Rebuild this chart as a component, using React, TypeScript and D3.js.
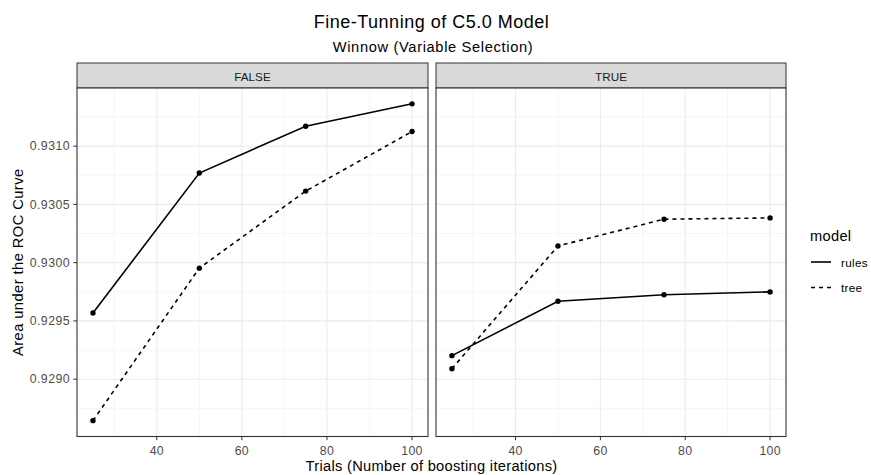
import React from "react";
import * as d3 from "d3";

const trials = [25, 50, 75, 100];
const panels = ["FALSE", "TRUE"];
const models = ["rules", "tree"];
const falseRules = [0.929568, 0.930769, 0.931171, 0.931363];
const falseTree = [0.928644, 0.929953, 0.930614, 0.931125];
const trueRules = [0.929202, 0.929669, 0.929724, 0.929749];
const trueTree = [0.92909, 0.930143, 0.930373, 0.930384];
const xTicks = [40, 60, 80, 100];
const xMinor = [30, 50, 70, 90];
const yTicks = [0.929, 0.9295, 0.93, 0.9305, 0.931];
const yMinor = [0.92875, 0.92925, 0.92975, 0.93025, 0.93075, 0.93125];

const W = 871;
const H = 475;
const FONT = "Liberation Sans, Arial, sans-serif";
const panelBoxes = [
  { x0: 77, x1: 428 },
  { x0: 436, x1: 786 },
];
const stripTop = 63;
const panelTop = 88;
const panelBottom = 436.5;

export default function App() {
  const series: Record<string, number[][]> = {
    FALSE: [falseRules, falseTree],
    TRUE: [trueRules, trueTree],
  };
  const all = [...falseRules, ...falseTree, ...trueRules, ...trueTree];
  const yMin = d3.min(all)!;
  const yMax = d3.max(all)!;
  const yPad = (yMax - yMin) * 0.05;
  const y = d3.scaleLinear().domain([yMin - yPad, yMax + yPad]).range([panelBottom, panelTop]);
  const xPad = (100 - 25) * 0.05;
  const dashes = ["none", "4,4"];
  const cx = (panelBoxes[0].x0 + panelBoxes[1].x1) / 2;

  return (
    <svg width={W} height={H} style={{ position: "absolute", left: 0, top: 0, background: "#fff" }} fontFamily={FONT}>
      <rect width={W} height={H} fill="#fff" />
      <text x={cx} y={27.5} textAnchor="middle" fontSize={18} letterSpacing={0.5} fill="#000">Fine-Tunning of C5.0 Model</text>
      <text x={cx + 1.5} y={52} textAnchor="middle" fontSize={14.67} letterSpacing={0.65} fill="#000">Winnow (Variable Selection)</text>
      {panels.map((p, pi) => {
        const b = panelBoxes[pi];
        const x = d3.scaleLinear().domain([25 - xPad, 100 + xPad]).range([b.x0, b.x1]);
        const line = d3.line<number>().x((_, i) => x(trials[i])).y((v) => y(v));
        return (
          <g key={p}>
            <rect x={b.x0} y={stripTop} width={b.x1 - b.x0} height={panelTop - stripTop} fill="#D9D9D9" stroke="#333" strokeWidth={1} />
            <text x={(b.x0 + b.x1) / 2} y={80.5} textAnchor="middle" fontSize={11.73} fill="#1A1A1A">{p}</text>
            <rect x={b.x0} y={panelTop} width={b.x1 - b.x0} height={panelBottom - panelTop} fill="#fff" />
            {yMinor.map((t) => (
              <line key={"ym" + t} x1={b.x0} x2={b.x1} y1={y(t)} y2={y(t)} stroke="#F2F2F2" strokeWidth={0.7} />
            ))}
            {xMinor.map((t) => (
              <line key={"xm" + t} x1={x(t)} x2={x(t)} y1={panelTop} y2={panelBottom} stroke="#F2F2F2" strokeWidth={0.7} />
            ))}
            {yTicks.map((t) => (
              <line key={"y" + t} x1={b.x0} x2={b.x1} y1={y(t)} y2={y(t)} stroke="#EBEBEB" strokeWidth={1.1} />
            ))}
            {xTicks.map((t) => (
              <line key={"x" + t} x1={x(t)} x2={x(t)} y1={panelTop} y2={panelBottom} stroke="#EBEBEB" strokeWidth={1.1} />
            ))}
            {series[p].map((vals, si) => (
              <g key={models[si]}>
                <path d={line(vals) || ""} fill="none" stroke="#000" strokeWidth={1.6} strokeDasharray={dashes[si]} />
                {vals.map((v, i) => (
                  <circle key={i} cx={x(trials[i])} cy={y(v)} r={2.7} fill="#000" />
                ))}
              </g>
            ))}
            <rect x={b.x0} y={panelTop} width={b.x1 - b.x0} height={panelBottom - panelTop} fill="none" stroke="#333" strokeWidth={1.1} />
            {xTicks.map((t) => (
              <g key={"xt" + t}>
                <line x1={x(t)} x2={x(t)} y1={panelBottom} y2={panelBottom + 3.7} stroke="#333" strokeWidth={1} />
                <text x={x(t)} y={455} textAnchor="middle" fontSize={12.3} letterSpacing={0.3} fill="#4D4D4D">{t}</text>
              </g>
            ))}
          </g>
        );
      })}
      {yTicks.map((t) => (
        <g key={"yt" + t}>
          <line x1={73.3} x2={77} y1={y(t)} y2={y(t)} stroke="#333" strokeWidth={1} />
          <text x={70} y={y(t) + 4.3} textAnchor="end" fontSize={12.3} letterSpacing={0.45} fill="#4D4D4D">{d3.format(".4f")(t)}</text>
        </g>
      ))}
      <text transform={`translate(22.5,${(panelTop + panelBottom) / 2}) rotate(-90)`} textAnchor="middle" fontSize={14.67} letterSpacing={0.45} fill="#000">Area under the ROC Curve</text>
      <text x={cx} y={471} textAnchor="middle" fontSize={14.67} letterSpacing={0.3} fill="#000">Trials (Number of boosting iterations)</text>
      <text x={810} y={241} fontSize={14.67} letterSpacing={0.3} fill="#000">model</text>
      {models.map((m, i) => (
        <g key={m}>
          <line x1={811} x2={831} y1={262 + i * 25.5} y2={262 + i * 25.5} stroke="#000" strokeWidth={1.6} strokeDasharray={dashes[i]} />
          <text x={841} y={266.5 + i * 25.5} fontSize={11.73} letterSpacing={0.3} fill="#000">{m}</text>
        </g>
      ))}
    </svg>
  );
}
